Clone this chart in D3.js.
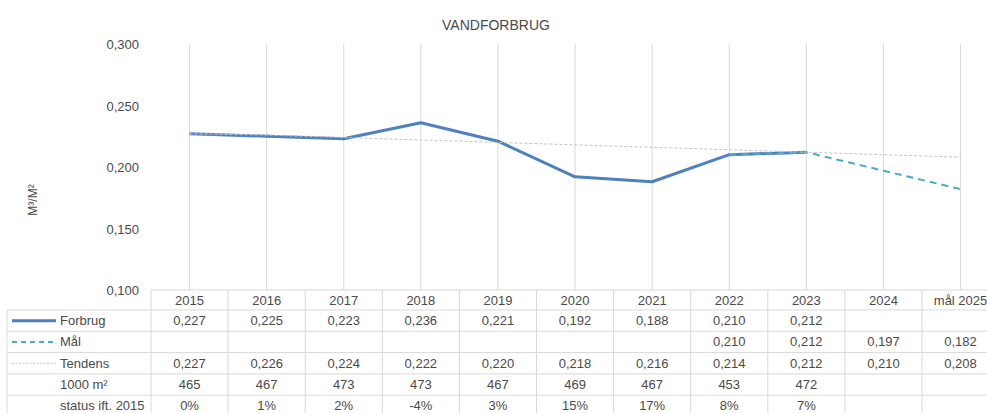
<!DOCTYPE html>
<html>
<head>
<meta charset="utf-8">
<script src="https://cdn.jsdelivr.net/npm/d3@7"></script>
<style>
  body { margin: 0; background: #fff; }
  svg text { font-family: "Liberation Sans", Arial, sans-serif; fill: #4a4a4a; }
</style>
</head>
<body>
<div class="display"></div>
<script>
// Vandforbrug chart with data table

const WIDTH = 987;
const HEIGHT = 413;

const PLOT_LEFT = 151; // left edge of first table column
const COL_WIDTH = 77.1; // table column width
const PLOT_TOP = 44;
const PLOT_BOTTOM = 290;
const HEADER_HEIGHT = 20;
const ROW_HEIGHT = 21.3;
const TABLE_LEFT = 7;

const categories = ['2015', '2016', '2017', '2018', '2019', '2020', '2021', '2022', '2023', '2024', 'mål 2025'];
const forbrug = [0.227, 0.225, 0.223, 0.236, 0.221, 0.192, 0.188, 0.210, 0.212, null, null];
const maal = [null, null, null, null, null, null, null, 0.210, 0.212, 0.197, 0.182];
const tendens = [0.227, 0.226, 0.224, 0.222, 0.220, 0.218, 0.216, 0.214, 0.212, 0.210, 0.208];
const areal = [465, 467, 473, 473, 467, 469, 467, 453, 472, null, null];
const status = ['0%', '1%', '2%', '-4%', '3%', '15%', '17%', '8%', '7%', '', ''];
const yTicks = [0.100, 0.150, 0.200, 0.250, 0.300];

const fmt = v => v == null ? '' : d3.format('.3f')(v).replace('.', ',');

const svg = d3.select('.display')
  .append('svg')
  .attr('width', WIDTH)
  .attr('height', HEIGHT);

const x = d3.scaleBand()
  .domain(categories)
  .range([PLOT_LEFT, PLOT_LEFT + COL_WIDTH * categories.length])
  .padding(0);
const cx = c => x(c) + x.bandwidth() / 2;

const y = d3.scaleLinear()
  .domain([0.1, 0.3])
  .range([PLOT_BOTTOM, PLOT_TOP]);

// Title
svg.append('text')
  .attr('x', 496)
  .attr('y', 30)
  .attr('text-anchor', 'middle')
  .style('font-size', '14px')
  .text('VANDFORBRUG');

// Y axis label
svg.append('text')
  .attr('transform', 'translate(37, 200) rotate(-90)')
  .attr('text-anchor', 'middle')
  .style('font-size', '12px')
  .text('M³/M²');

// Y tick labels
const yAxis = svg.append('g')
  .attr('transform', `translate(${PLOT_LEFT - 12}, 0)`)
  .call(d3.axisLeft(y).tickValues(yTicks).tickSize(0).tickFormat(fmt));
yAxis.select('.domain').remove();
yAxis.selectAll('text')
  .attr('x', 0)
  .attr('dy', '0.35em')
  .style('font-size', '13px')
  .style('font-family', '"Liberation Sans", Arial, sans-serif')
  .style('fill', '#4a4a4a');

// Vertical gridlines at category centers
svg.append('g').selectAll('line')
  .data(categories)
  .enter()
  .append('line')
  .attr('x1', cx).attr('x2', cx)
  .attr('y1', PLOT_TOP).attr('y2', PLOT_BOTTOM)
  .attr('stroke', '#d9d9d9')
  .attr('stroke-width', 1);

// Series lines
const line = d3.line()
  .defined(d => d.v != null)
  .x(d => cx(d.c))
  .y(d => y(d.v));
const toPts = arr => categories.map((c, i) => ({ c, v: arr[i] }));

svg.append('path')
  .datum(toPts(forbrug))
  .attr('d', line)
  .attr('fill', 'none')
  .attr('stroke', '#4f81bd')
  .attr('stroke-width', 3)
  .attr('stroke-linejoin', 'round');

svg.append('path')
  .datum(toPts(maal))
  .attr('d', line)
  .attr('fill', 'none')
  .attr('stroke', '#4bacc6')
  .attr('stroke-width', 2)
  .attr('stroke-dasharray', '7,5');

svg.append('path')
  .datum(toPts(tendens))
  .attr('d', line)
  .attr('fill', 'none')
  .attr('stroke', '#c4c4c4')
  .attr('stroke-width', 1)
  .attr('stroke-dasharray', '3,2');

// Data table
const table = svg.append('g');
const rows = [
  { label: 'Forbrug', values: forbrug.map(fmt), key: 'forbrug' },
  { label: 'Mål', values: maal.map(fmt), key: 'maal' },
  { label: 'Tendens', values: tendens.map(fmt), key: 'tendens' },
  { label: '1000 m²', values: areal.map(v => v == null ? '' : String(v)) },
  { label: 'status ift. 2015', values: status }
];
const tableRight = PLOT_LEFT + COL_WIDTH * categories.length;
// i = 0 is header top, i >= 1 are body row tops
const rowTop = i => i === 0 ? PLOT_BOTTOM : PLOT_BOTTOM + HEADER_HEIGHT + ROW_HEIGHT * (i - 1);

const gridColor = '#d9d9d9';
// Horizontal lines
table.append('line')
  .attr('x1', PLOT_LEFT).attr('x2', tableRight)
  .attr('y1', rowTop(0)).attr('y2', rowTop(0))
  .attr('stroke', gridColor);
for (let i = 1; i <= rows.length + 1; i++) {
  table.append('line')
    .attr('x1', TABLE_LEFT).attr('x2', tableRight)
    .attr('y1', rowTop(i)).attr('y2', rowTop(i))
    .attr('stroke', gridColor);
}
// Vertical lines
table.append('line')
  .attr('x1', TABLE_LEFT).attr('x2', TABLE_LEFT)
  .attr('y1', rowTop(1)).attr('y2', rowTop(rows.length + 1))
  .attr('stroke', gridColor);
categories.concat([null]).forEach((c, i) => {
  const xx = PLOT_LEFT + COL_WIDTH * i;
  table.append('line')
    .attr('x1', xx).attr('x2', xx)
    .attr('y1', rowTop(0)).attr('y2', rowTop(rows.length + 1))
    .attr('stroke', gridColor);
});

// Header
table.selectAll('.hdr')
  .data(categories)
  .enter()
  .append('text')
  .attr('class', 'hdr')
  .attr('x', cx)
  .attr('y', rowTop(0) + HEADER_HEIGHT / 2 + 5)
  .attr('text-anchor', 'middle')
  .style('font-size', '13px')
  .text(d => d);

rows.forEach((r, ri) => {
  const top = rowTop(ri + 1);
  const mid = top + ROW_HEIGHT / 2;
  const base = Math.min(mid + 4.5, HEIGHT - 3.5);
  table.append('text')
    .attr('x', 60)
    .attr('y', base)
    .style('font-size', '13px')
    .text(r.label);

  if (r.key === 'forbrug') {
    table.append('line').attr('x1', 12).attr('x2', 56).attr('y1', mid).attr('y2', mid)
      .attr('stroke', '#4f81bd').attr('stroke-width', 3);
  } else if (r.key === 'maal') {
    table.append('line').attr('x1', 12).attr('x2', 56).attr('y1', mid).attr('y2', mid)
      .attr('stroke', '#4bacc6').attr('stroke-width', 2).attr('stroke-dasharray', '5,4');
  } else if (r.key === 'tendens') {
    table.append('line').attr('x1', 12).attr('x2', 56).attr('y1', mid).attr('y2', mid)
      .attr('stroke', '#c8c8c8').attr('stroke-width', 1).attr('stroke-dasharray', '2,1.5');
  }

  table.selectAll(null)
    .data(r.values)
    .enter()
    .append('text')
    .attr('x', (d, i) => cx(categories[i]))
    .attr('y', base)
    .attr('text-anchor', 'middle')
    .style('font-size', '13px')
    .text(d => d);
});
</script>
</body>
</html>
